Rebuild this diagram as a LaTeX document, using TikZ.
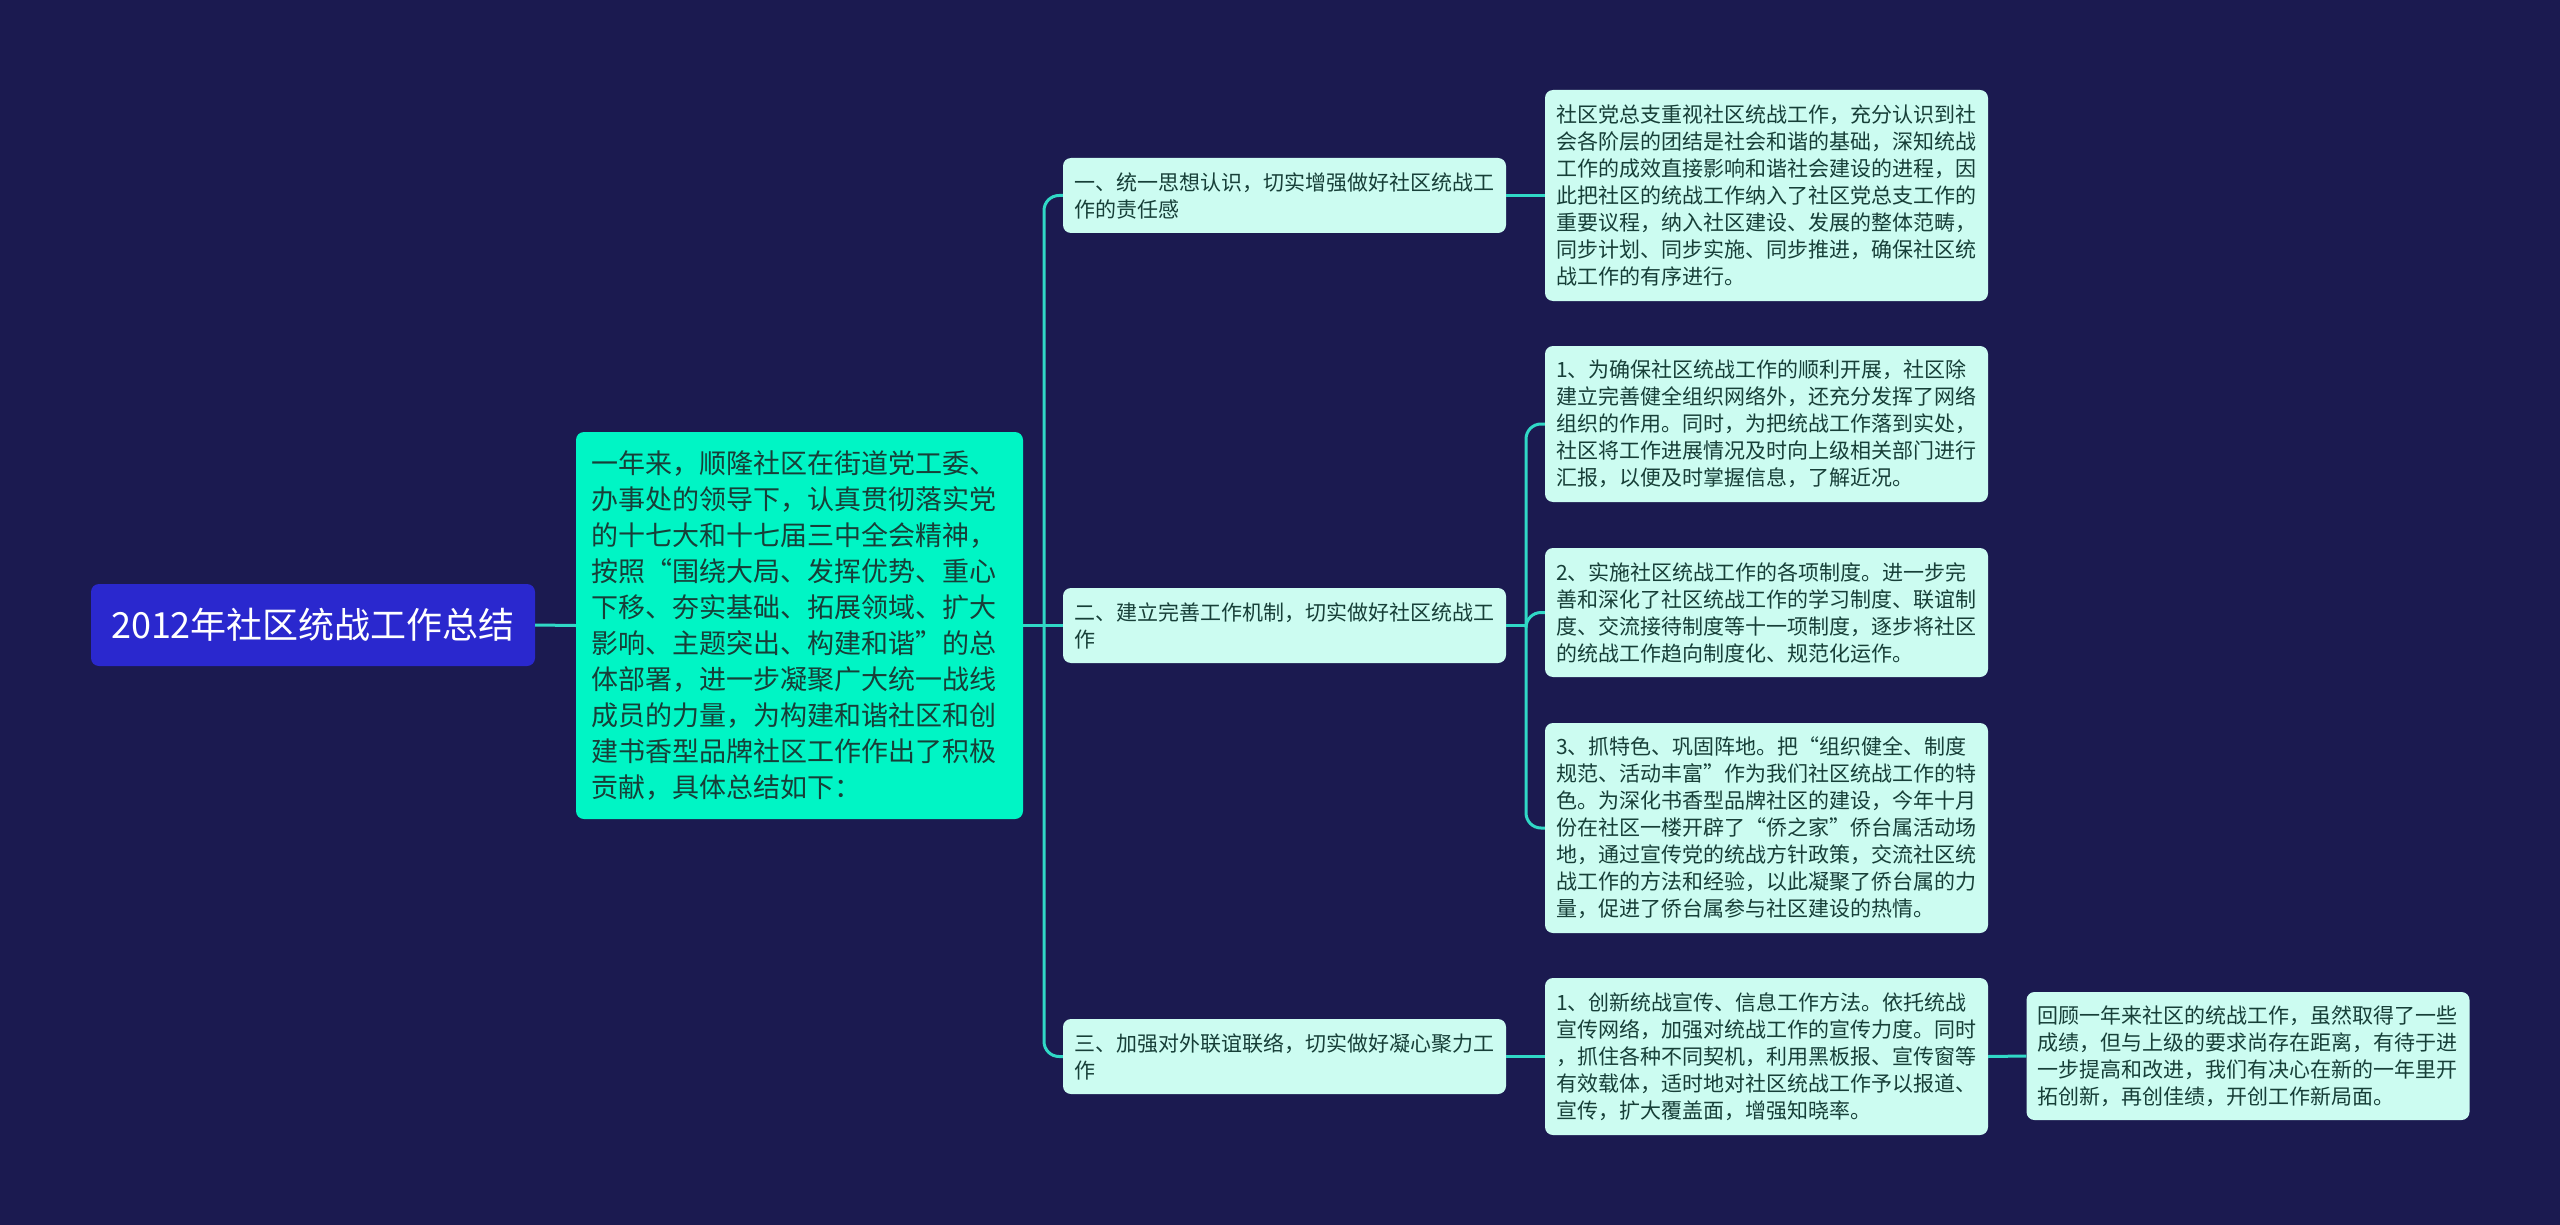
\documentclass[tikz,border=0pt]{standalone}
\usepackage{fontspec}
\setmainfont{Noto Sans CJK SC}
\usetikzlibrary{calc}
\definecolor{bgc}{HTML}{1B1A50}
\definecolor{rootc}{HTML}{2A28CE}
\definecolor{midc}{HTML}{00F5C5}
\definecolor{leafc}{HTML}{CCFCF1}
\definecolor{linec}{HTML}{30D8C6}
\definecolor{txtc}{HTML}{173F38}
\begin{document}
\begin{tikzpicture}[x=1pt,y=-1pt,
  conn/.style={draw=linec, line width=3pt},
  rootbox/.style={fill=rootc, rounded corners=8pt, text=white, font=\fontsize{36}{44}\selectfont, minimum width=444pt, minimum height=82pt, inner sep=0pt},
  midbox/.style={fill=midc, rounded corners=8pt, text=txtc, font=\fontsize{27}{36}\selectfont, text width=417pt, inner xsep=15pt, inner ysep=0pt, align=left, minimum height=387pt},
  leafbox/.style={fill=leafc, rounded corners=8pt, text=txtc, font=\fontsize{21}{27}\selectfont, text width=421pt, inner xsep=11pt, inner ysep=0pt, align=left},
]
\fill[bgc] (0,0) rectangle (2560,1225);

\node[rootbox] (root) at (313,625) {2012年社区统战工作总结};
\node[midbox] (mid) at (799.5,625.5) {一年来，顺隆社区在街道党工委、\\办事处的领导下，认真贯彻落实党\\的十七大和十七届三中全会精神，\\按照“围绕大局、发挥优势、重心\\下移、夯实基础、拓展领域、扩大\\影响、主题突出、构建和谐”的总\\体部署，进一步凝聚广大统一战线\\成员的力量，为构建和谐社区和创\\建书香型品牌社区工作作出了积极\\贡献，具体总结如下：};

\node[leafbox, minimum height=75pt] (n1) at (1284.5,195.5) {一、统一思想认识，切实增强做好社区统战工\\作的责任感};
\node[leafbox, minimum height=75pt] (n2) at (1284.5,625.5) {二、建立完善工作机制，切实做好社区统战工\\作};
\node[leafbox, minimum height=75pt] (n3) at (1284.5,1056.5) {三、加强对外联谊联络，切实做好凝心聚力工\\作};

\node[leafbox, minimum height=211pt] (l0) at (1766.5,195.5) {社区党总支重视社区统战工作，充分认识到社\\会各阶层的团结是社会和谐的基础，深知统战\\工作的成效直接影响和谐社会建设的进程，因\\此把社区的统战工作纳入了社区党总支工作的\\重要议程，纳入社区建设、发展的整体范畴，\\同步计划、同步实施、同步推进，确保社区统\\战工作的有序进行。};
\node[leafbox, minimum height=156pt] (l1) at (1766.5,424) {1、为确保社区统战工作的顺利开展，社区除\\建立完善健全组织网络外，还充分发挥了网络\\组织的作用。同时，为把统战工作落到实处，\\社区将工作进展情况及时向上级相关部门进行\\汇报，以便及时掌握信息，了解近况。};
\node[leafbox, minimum height=129pt] (l2) at (1766.5,612.5) {2、实施社区统战工作的各项制度。进一步完\\善和深化了社区统战工作的学习制度、联谊制\\度、交流接待制度等十一项制度，逐步将社区\\的统战工作趋向制度化、规范化运作。};
\node[leafbox, minimum height=210pt] (l3) at (1766.5,828) {3、抓特色、巩固阵地。把“组织健全、制度\\规范、活动丰富”作为我们社区统战工作的特\\色。为深化书香型品牌社区的建设，今年十月\\份在社区一楼开辟了“侨之家”侨台属活动场\\地，通过宣传党的统战方针政策，交流社区统\\战工作的方法和经验，以此凝聚了侨台属的力\\量，促进了侨台属参与社区建设的热情。};
\node[leafbox, minimum height=157pt] (l4) at (1766.5,1056.5) {1、创新统战宣传、信息工作方法。依托统战\\宣传网络，加强对统战工作的宣传力度。同时\\，抓住各种不同契机，利用黑板报、宣传窗等\\有效载体，适时地对社区统战工作予以报道、\\宣传，扩大覆盖面，增强知晓率。};
\node[leafbox, minimum height=128pt] (fin) at (2248,1056) {回顾一年来社区的统战工作，虽然取得了一些\\成绩，但与上级的要求尚存在距离，有待于进\\一步提高和改进，我们有决心在新的一年里开\\拓创新，再创佳绩，开创工作新局面。};

\draw[conn] (root.east) -- (mid.west);
\coordinate (j1) at (1044,625.5);
\draw[conn] (mid.east) -- (j1);
\draw[conn, rounded corners=15pt] (j1) |- (n1.west);
\draw[conn] (j1) -- (n2.west);
\draw[conn, rounded corners=15pt] (j1) |- (n3.west);

\draw[conn] (n1.east) -- (l0.west);
\coordinate (j2) at (1526,625.5);
\draw[conn] (n2.east) -- (j2);
\draw[conn, rounded corners=15pt] (j2) |- (l1.west);
\draw[conn, rounded corners=15pt] (j2) |- (l2.west);
\draw[conn, rounded corners=15pt] (j2) |- (l3.west);
\draw[conn] (n3.east) -- (l4.west);
\draw[conn] (l4.east) -- (fin.west);
\end{tikzpicture}
\end{document}
